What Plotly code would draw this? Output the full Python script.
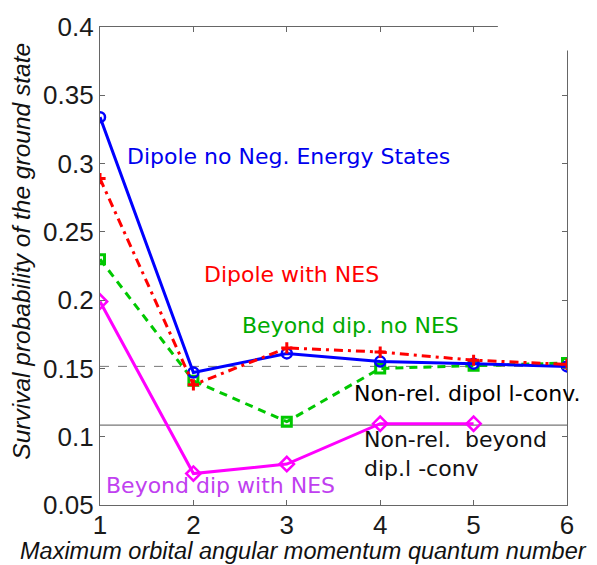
import plotly.graph_objects as go

# Maximum orbital angular momentum quantum number
l_max = [1, 2, 3, 4, 5, 6]
l_max_beyond_nes = [1, 2, 3, 4, 5]

# Survival probability of the ground state for each model
dipole_no_nes = [0.334, 0.147, 0.161, 0.155, 0.1535, 0.1515]
dipole_with_nes = [0.289, 0.138, 0.165, 0.162, 0.156, 0.153]
beyond_no_nes = [0.230, 0.141, 0.111, 0.150, 0.152, 0.154]
beyond_with_nes = [0.199, 0.073, 0.080, 0.1095, 0.1095]

# Non-relativistic l-converged reference levels
nonrel_dipole = 0.1515
nonrel_beyond = 0.1085

y_ticks = [0.05, 0.1, 0.15, 0.2, 0.25, 0.3, 0.35, 0.4]
y_tick_text = ["0.05", "0.1", "0.15", "0.2", "0.25", "0.3", "0.35", "0.4"]

fig = go.Figure()

# reference levels
fig.add_trace(go.Scatter(x=[l_max[0], l_max[-1]], y=[nonrel_dipole, nonrel_dipole],
                         mode="lines", line=dict(color="#777777", width=1, dash="dash"),
                         showlegend=False, hoverinfo="skip"))
fig.add_trace(go.Scatter(x=[l_max[0], l_max[-1]], y=[nonrel_beyond, nonrel_beyond],
                         mode="lines", line=dict(color="#777777", width=1.2),
                         showlegend=False, hoverinfo="skip"))

fig.add_trace(go.Scatter(x=l_max_beyond_nes, y=beyond_with_nes, mode="lines+markers",
                         line=dict(color="#ff00ff", width=3),
                         marker=dict(symbol="diamond-open", size=11, color="#ff00ff",
                                     line=dict(width=2.5, color="#ff00ff")),
                         showlegend=False))
fig.add_trace(go.Scatter(x=l_max, y=beyond_no_nes, mode="lines+markers",
                         line=dict(color="#00c800", width=3, dash="8px,6px"),
                         marker=dict(symbol="square-open", size=9, color="#00c800",
                                     line=dict(width=3, color="#00c800")),
                         showlegend=False))
fig.add_trace(go.Scatter(x=l_max, y=dipole_no_nes, mode="lines+markers",
                         line=dict(color="#0000ff", width=3),
                         marker=dict(symbol="circle-open", size=10, color="#0000ff",
                                     line=dict(width=2.5, color="#0000ff")),
                         showlegend=False))
fig.add_trace(go.Scatter(x=l_max, y=dipole_with_nes, mode="lines+markers",
                         line=dict(color="#ff0000", width=3, dash="9px,5px,3px,5px"),
                         marker=dict(symbol="cross-thin-open", size=8, color="#ff0000",
                                     line=dict(width=3, color="#ff0000")),
                         showlegend=False))

label_font = "DejaVu Sans"
labels = [
    (1.268, 0.3054, "Dipole no Neg. Energy States", "#0000ee"),
    (2.092, 0.219, "Dipole with NES", "#ff0000"),
    (2.499, 0.1817, "Beyond dip. no NES", "#00aa00"),
    (3.698, 0.132, "Non-rel. dipol l-conv.", "#000000"),
    (3.805, 0.0872, "Non-rel.  beyond<br>dip.l -conv", "#111111"),
    (1.043, 0.0644, "Beyond dip with NES", "#c040f0"),
]
for x, y, text, color in labels:
    fig.add_annotation(x=x, y=y, text=text, showarrow=False, xanchor="left",
                       yanchor="middle", align="left",
                       font=dict(family=label_font, size=22, color=color))

# axis titles
fig.add_annotation(xref="paper", yref="paper", x=0.435, y=-0.0965,
                   text="<i>Maximum orbital angular momentum quantum number</i>",
                   showarrow=False, xanchor="center", yanchor="middle",
                   font=dict(family="Liberation Sans", size=23.5, color="#111111"))
fig.add_annotation(xref="paper", yref="paper", x=-0.167, y=0.530, textangle=-90,
                   text="<i>Survival probability of the ground state</i>",
                   showarrow=False, xanchor="center", yanchor="middle",
                   font=dict(family="Liberation Sans", size=24.5, color="#111111"))

# blank corner at the top right of the frame
fig.add_shape(type="rect", xref="paper", yref="paper", x0=0.852, x1=1.1, y0=0.951, y1=1.1,
              fillcolor="white", line=dict(width=0), layer="above")

axis_common = dict(showline=True, linecolor="#666666", linewidth=1.2, mirror="ticks",
                   ticks="inside", ticklen=5, tickcolor="#666666", showgrid=False,
                   zeroline=False,
                   tickfont=dict(family="Liberation Sans", size=26, color="#1a1a1a"))

fig.update_xaxes(range=[1, 6], tickvals=l_max, ticktext=[str(v) for v in l_max],
                 ticklabelstandoff=-3, **axis_common)
fig.update_yaxes(range=[0.05, 0.4], tickvals=y_ticks, ticktext=y_tick_text,
                 **axis_common)

fig.update_layout(width=597, height=565, margin=dict(l=100, r=30, t=18, b=60),
                  plot_bgcolor="white", paper_bgcolor="white", showlegend=False)

fig.write_html("out.html")
